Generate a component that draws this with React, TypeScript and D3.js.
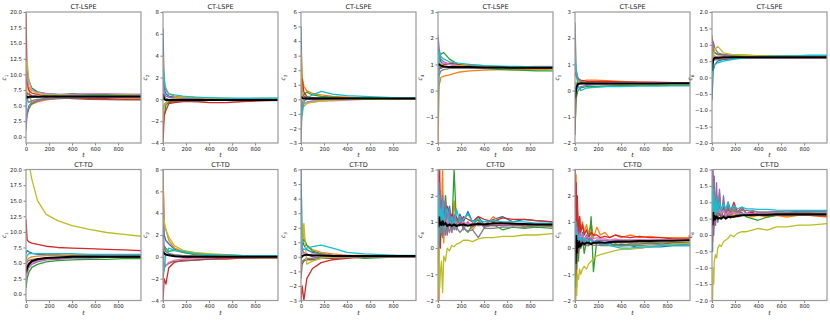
import React, { useRef, useEffect } from 'react';
import * as d3 from 'd3';

// time grids (smooth panels are sampled sparsely, noisy ones a bit denser)
const tSmooth = [0, 10, 25, 50, 100, 175, 275, 400, 550, 700, 850, 999];
const tNoisy = [0, 5, 10, 15, 20, 30, 40, 50, 65, 80, 100, 120, 140, 160, 190, 220, 260, 300, 350, 400, 480, 560, 650, 750, 850, 999];

const colors = ['#1f77b4', '#ff7f0e', '#2ca02c', '#d62728', '#9467bd', '#8c564b', '#e377c2', '#7f7f7f', '#bcbd22', '#17becf'];

const titles = ['CT-LSPE', 'CT-TD'];
const yLabels = ['1', '2', '3', '4', '5', '6'];
const yDomains: [number, number][] = [[-1, 20], [-4, 8], [-3, 6], [-2, 3], [-2, 3], [-2, 2]];
const yTicks = [
  [0, 2.5, 5, 7.5, 10, 12.5, 15, 17.5, 20],
  [-4, -2, 0, 2, 4, 6, 8],
  [-3, -2, -1, 0, 1, 2, 3, 4, 5, 6],
  [-2, -1, 0, 1, 2, 3],
  [-2, -1, 0, 1, 2, 3],
  [-2, -1.5, -1, -0.5, 0, 0.5, 1, 1.5, 2],
];
const xTicks = [0, 200, 400, 600, 800];

// ---- CT-LSPE ----
const lspeC1 = [
  [8.0, 10.5, 9.0, 7.8, 7.2, 6.9, 6.8, 6.7, 6.7, 6.6, 6.6, 6.6],
  [5.0, 8.5, 7.5, 5.2, 5.6, 5.9, 6.1, 6.2, 6.3, 6.3, 6.2, 6.2],
  [2.5, 3.5, 4.5, 5.3, 5.8, 6.3, 6.7, 6.9, 6.8, 6.8, 6.8, 6.7],
  [20.0, 9.0, 7.5, 7.0, 6.8, 6.6, 6.4, 6.2, 6.1, 6.1, 6.0, 6.0],
  [1.0, 4.0, 5.0, 5.5, 5.8, 6.0, 6.1, 6.2, 6.3, 6.3, 6.3, 6.3],
  [6.0, 7.0, 6.8, 6.6, 6.5, 6.4, 6.3, 6.1, 6.0, 5.95, 5.9, 5.9],
  [12.0, 9.5, 8.0, 7.4, 7.1, 6.9, 6.8, 6.8, 6.9, 6.9, 6.85, 6.85],
  [7.0, 6.0, 5.5, 5.8, 6.0, 6.1, 6.2, 6.3, 6.3, 6.4, 6.4, 6.4],
  [11.5, 12.0, 9.0, 7.5, 6.9, 6.7, 6.7, 6.6, 6.6, 6.6, 6.7, 6.6],
  [4.0, 6.0, 6.2, 6.3, 6.4, 6.5, 6.5, 6.5, 6.5, 6.5, 6.5, 6.5],
];
const lspeC1Mean = [6.6, 6.3, 6.4, 6.4, 6.4, 6.45, 6.45, 6.45, 6.45, 6.45, 6.45, 6.45];

const lspeC2 = [
  [6.5, 1.0, 0.5, 0.3, 0.2, 0.15, 0.1, 0.05, 0.05, 0.0, 0.0, 0.0],
  [4.0, 1.5, 1.0, 0.5, 0.3, 0.2, 0.1, 0.05, 0.0, 0.0, 0.0, 0.0],
  [-2.5, -1.5, -0.5, -0.3, -0.2, -0.1, -0.1, -0.1, -0.1, -0.15, -0.1, -0.1],
  [-4.0, -1.5, -1.0, -0.4, -0.3, -0.2, -0.2, -0.3, -0.3, -0.2, -0.15, -0.1],
  [2.0, 0.5, 0.3, 0.2, 0.1, 0.1, 0.05, 0.0, 0.0, 0.0, -0.05, -0.05],
  [-1.0, -0.5, -0.3, -0.2, -0.2, -0.1, -0.2, -0.1, -0.1, -0.1, -0.1, -0.1],
  [1.0, 0.3, 0.0, -0.1, -0.1, -0.1, -0.1, -0.1, -0.1, -0.05, -0.05, -0.05],
  [0.0, 0.2, 0.1, 0.0, 0.0, 0.0, 0.0, 0.0, 0.0, 0.0, 0.0, 0.0],
  [-2.0, -0.5, -0.3, -0.1, 0.1, 0.2, 0.2, 0.1, 0.1, 0.05, 0.1, 0.1],
  [3.0, 2.0, 0.8, 0.5, 0.4, 0.3, 0.2, 0.15, 0.1, 0.1, 0.1, 0.1],
];
const lspeC2Mean = [0.5, 0.0, -0.05, -0.05, -0.05, -0.05, -0.05, -0.05, -0.05, -0.05, -0.05, -0.05];

const lspeC3 = [
  [5.0, 0.5, 0.2, 0.1, 0.1, 0.1, 0.1, 0.05, 0.05, 0.05, 0.05, 0.05],
  [3.3, 1.5, 0.9, 0.6, 0.4, 0.3, 0.2, 0.15, 0.1, 0.1, 0.1, 0.1],
  [-0.5, 0.2, 0.3, 0.5, 0.3, 0.2, 0.15, 0.1, 0.1, 0.1, 0.05, 0.05],
  [-1.5, 1.4, 0.5, 0.2, 0.1, 0.0, 0.0, 0.0, 0.0, 0.0, 0.0, 0.0],
  [-2.0, -0.5, -0.3, -0.2, -0.1, -0.1, -0.05, 0.0, 0.0, 0.0, 0.0, 0.0],
  [1.0, 0.3, 0.2, 0.1, 0.1, 0.1, 0.1, 0.1, 0.05, 0.05, 0.05, 0.05],
  [0.5, -0.2, -0.3, -0.2, -0.2, -0.1, -0.1, -0.05, 0.0, 0.0, 0.0, 0.0],
  [-3.0, -0.2, -0.1, 0.0, 0.0, 0.0, 0.0, 0.0, 0.0, 0.0, 0.0, 0.0],
  [2.0, 0.5, -0.5, -0.3, -0.2, -0.1, -0.05, 0.0, 0.0, 0.0, 0.05, 0.05],
  [-1.0, -1.1, -0.2, 0.1, 0.3, 0.55, 0.35, 0.25, 0.2, 0.15, 0.1, 0.1],
];
const lspeC3Mean = [0.2, 0.1, 0.05, 0.05, 0.05, 0.05, 0.05, 0.05, 0.05, 0.05, 0.05, 0.05];

const lspeC4 = [
  [1.8, 1.3, 1.1, 1.0, 1.0, 0.95, 0.92, 0.9, 0.88, 0.87, 0.86, 0.86],
  [-2.0, 0.2, 0.5, 0.55, 0.6, 0.7, 0.75, 0.78, 0.8, 0.8, 0.8, 0.82],
  [0.8, 1.2, 1.4, 1.45, 1.2, 1.0, 0.9, 0.85, 0.8, 0.78, 0.75, 0.75],
  [0.5, 0.8, 0.9, 1.0, 1.05, 1.0, 0.95, 0.92, 0.9, 0.9, 0.9, 0.9],
  [2.1, 1.6, 1.2, 1.1, 1.0, 0.95, 0.9, 0.9, 0.9, 0.88, 0.88, 0.88],
  [1.0, 0.9, 0.85, 0.9, 0.9, 0.88, 0.87, 0.86, 0.86, 0.85, 0.85, 0.85],
  [1.2, 1.0, 1.0, 1.05, 1.0, 0.95, 0.92, 0.9, 0.9, 0.9, 0.92, 0.92],
  [0.0, 0.6, 0.75, 0.8, 0.85, 0.85, 0.85, 0.85, 0.85, 0.85, 0.85, 0.85],
  [1.3, 1.1, 1.0, 0.95, 0.9, 0.95, 1.0, 0.95, 0.9, 0.9, 0.9, 0.88],
  [-1.0, 1.5, 1.3, 1.2, 1.1, 1.05, 1.0, 0.95, 0.93, 0.92, 0.9, 0.9],
];
const lspeC4Mean = [1.0, 1.0, 0.95, 0.92, 0.9, 0.9, 0.9, 0.88, 0.88, 0.87, 0.87, 0.87];

const lspeC5 = [
  [1.1, 0.6, 0.4, 0.3, 0.25, 0.25, 0.22, 0.2, 0.2, 0.2, 0.2, 0.2],
  [0.8, 0.5, 0.4, 0.35, 0.4, 0.4, 0.38, 0.35, 0.32, 0.3, 0.3, 0.3],
  [-1.5, -0.3, 0.0, 0.1, 0.15, 0.15, 0.17, 0.18, 0.2, 0.2, 0.2, 0.2],
  [0.7, 0.6, 0.45, 0.4, 0.35, 0.35, 0.35, 0.33, 0.32, 0.32, 0.3, 0.3],
  [-0.8, 0.0, 0.1, 0.15, 0.2, 0.22, 0.23, 0.24, 0.25, 0.25, 0.25, 0.25],
  [-1.7, 0.3, 0.3, 0.3, 0.3, 0.3, 0.3, 0.3, 0.28, 0.28, 0.28, 0.28],
  [0.3, 0.2, 0.25, 0.25, 0.3, 0.3, 0.3, 0.3, 0.3, 0.3, 0.3, 0.3],
  [2.6, 0.8, 0.5, 0.35, 0.3, 0.28, 0.27, 0.27, 0.26, 0.26, 0.25, 0.25],
  [0.2, 0.3, 0.35, 0.3, 0.28, 0.26, 0.25, 0.25, 0.25, 0.25, 0.25, 0.25],
  [1.2, 0.8, 0.2, 0.0, 0.1, 0.12, 0.15, 0.15, 0.17, 0.17, 0.18, 0.18],
];
const lspeC5Mean = [-0.3, 0.1, 0.25, 0.28, 0.27, 0.27, 0.27, 0.27, 0.27, 0.27, 0.28, 0.28];

const lspeC6 = [
  [-0.7, 0.2, 0.4, 0.5, 0.55, 0.58, 0.6, 0.6, 0.6, 0.6, 0.6, 0.6],
  [1.3, 0.9, 0.75, 0.7, 0.68, 0.68, 0.67, 0.66, 0.65, 0.65, 0.64, 0.64],
  [0.9, 0.8, 0.75, 0.7, 0.7, 0.68, 0.68, 0.67, 0.66, 0.66, 0.66, 0.66],
  [1.2, 0.6, 0.55, 0.55, 0.57, 0.58, 0.6, 0.6, 0.6, 0.6, 0.6, 0.6],
  [0.5, 1.1, 0.9, 0.75, 0.7, 0.65, 0.63, 0.62, 0.62, 0.62, 0.62, 0.62],
  [0.4, 0.5, 0.55, 0.58, 0.6, 0.62, 0.62, 0.62, 0.62, 0.62, 0.62, 0.62],
  [0.8, 0.7, 0.65, 0.62, 0.62, 0.6, 0.6, 0.6, 0.6, 0.6, 0.6, 0.6],
  [0.6, 0.6, 0.55, 0.55, 0.58, 0.6, 0.6, 0.6, 0.6, 0.6, 0.6, 0.6],
  [0.3, 0.7, 0.85, 0.95, 0.75, 0.7, 0.68, 0.66, 0.65, 0.65, 0.65, 0.65],
  [0.0, 0.3, 0.4, 0.45, 0.5, 0.55, 0.6, 0.62, 0.65, 0.66, 0.68, 0.68],
];
const lspeC6Mean = [0.2, 0.55, 0.6, 0.6, 0.62, 0.62, 0.62, 0.62, 0.62, 0.62, 0.62, 0.62];

// ---- CT-TD ----
const tdC1 = [
  [6.5, 7.0, 6.8, 6.6, 6.4, 6.3, 6.3, 6.2, 6.2, 6.2, 6.2, 6.2],
  [3.0, 5.5, 5.8, 6.0, 6.1, 6.2, 6.2, 6.3, 6.3, 6.3, 6.3, 6.3],
  [1.0, 2.5, 3.5, 4.3, 4.8, 5.2, 5.4, 5.5, 5.6, 5.6, 5.7, 5.7],
  [12.0, 8.7, 8.4, 8.2, 8.0, 7.7, 7.5, 7.4, 7.3, 7.2, 7.1, 7.0],
  [2.0, 3.5, 4.3, 4.8, 5.2, 5.5, 5.6, 5.8, 5.8, 5.9, 5.9, 5.9],
  [4.0, 4.5, 5.0, 5.3, 5.5, 5.7, 5.8, 5.9, 6.0, 6.0, 6.0, 6.0],
  [2.5, 3.8, 4.5, 5.0, 5.4, 5.6, 5.8, 5.9, 6.0, 6.1, 6.1, 6.1],
  [5.0, 5.2, 5.4, 5.6, 5.7, 5.8, 5.9, 6.0, 6.0, 6.0, 6.1, 6.1],
  [25.0, 24.0, 21.0, 18.5, 15.0, 12.8, 11.8, 11.0, 10.4, 9.9, 9.6, 9.3],
  [5.5, 6.2, 6.5, 6.5, 6.5, 6.5, 6.5, 6.5, 6.4, 6.4, 6.4, 6.4],
];
const tdC1Mean = [3.5, 4.2, 4.8, 5.3, 5.6, 5.8, 5.9, 6.0, 6.0, 6.0, 6.0, 6.0];

const tdC2 = [
  [8.0, 2.0, 1.5, 1.2, 0.7, 0.4, 0.3, 0.2, 0.1, 0.05, 0.0, 0.0],
  [8.0, 3.0, 2.5, 1.5, 0.8, 0.5, 0.3, 0.2, 0.1, 0.1, 0.05, 0.05],
  [-1.0, 1.0, 0.8, 0.5, 0.6, 0.4, 0.2, 0.1, 0.0, -0.1, -0.1, -0.1],
  [-4.0, -2.0, -2.5, -1.0, -0.5, -0.3, -0.3, -0.2, -0.2, -0.1, -0.1, -0.1],
  [3.0, 1.0, 0.5, 0.3, 0.1, 0.0, -0.1, -0.1, 0.0, 0.0, 0.0, 0.0],
  [-2.0, -1.0, -0.8, -0.6, -0.4, -0.4, -0.3, -0.2, -0.1, -0.1, -0.05, -0.05],
  [1.5, -0.5, -0.8, -0.5, -0.3, -0.2, -0.1, -0.1, 0.0, 0.0, 0.0, 0.0],
  [0.5, 0.8, 0.5, 0.3, 0.2, 0.1, 0.1, 0.05, 0.0, 0.0, 0.0, 0.0],
  [3.5, 3.3, 2.5, 1.8, 1.0, 0.6, 0.4, 0.3, 0.2, 0.1, 0.1, 0.1],
  [-1.5, -1.2, 0.3, 0.8, 0.6, 0.5, 0.3, 0.2, 0.2, 0.1, 0.1, 0.1],
];
const tdC2Mean = [0.5, 0.3, 0.2, 0.15, 0.05, 0.0, 0.0, 0.0, 0.0, 0.0, 0.0, 0.0];

const tdC3 = [
  [6.0, 1.2, 0.8, 0.5, 0.3, 0.2, 0.1, 0.05, 0.0, 0.0, 0.0, 0.0],
  [2.5, 2.0, 1.3, 0.8, 0.5, 0.3, 0.2, 0.1, 0.1, 0.05, 0.05, 0.05],
  [-0.5, 1.0, 1.2, 0.8, 0.4, 0.2, 0.1, 0.0, -0.1, -0.05, 0.0, 0.0],
  [-3.0, -2.0, -3.0, -1.5, -0.8, -0.4, -0.2, -0.1, 0.0, 0.0, 0.0, 0.0],
  [1.0, 0.5, 0.3, 0.2, 0.0, -0.1, -0.1, 0.0, 0.0, 0.0, 0.0, 0.0],
  [-1.5, -0.5, -0.3, -0.2, -0.2, -0.1, -0.1, -0.05, 0.0, 0.0, 0.0, 0.0],
  [0.5, 0.3, 0.2, 0.1, 0.2, 0.15, 0.1, 0.1, 0.05, 0.05, 0.05, 0.05],
  [-0.5, -0.3, -0.2, -0.1, -0.1, 0.0, 0.0, 0.0, 0.0, 0.0, 0.0, 0.0],
  [1.5, 1.0, 2.3, -0.5, -0.3, -0.1, 0.0, 0.0, 0.05, 0.05, 0.05, 0.05],
  [3.0, 0.6, 0.5, 0.6, 0.7, 0.8, 0.6, 0.3, 0.2, 0.15, 0.1, 0.1],
];
const tdC3Mean = [-0.1, 0.05, 0.1, 0.15, 0.1, 0.1, 0.05, 0.05, 0.05, 0.05, 0.05, 0.05];

const tdC4 = [
  [3, -1, 2.5, 0.5, 2.0, 0.8, 1.5, 1.8, 0.6, 1.3, 1.6, 0.9, 1.2, 0.8, 1.3, 1.0, 1.4, 1.0, 1.2, 0.9, 1.1, 1.2, 1.0, 1.1, 1.05, 1.0],
  [-2, 3, -2, 2.5, 0.0, 1.5, 3.0, 0.2, 2.0, 0.5, 1.0, 0.6, 1.8, 0.7, 1.2, 0.8, 1.0, 0.7, 1.0, 0.8, 1.2, 0.9, 1.0, 0.8, 0.9, 0.8],
  [2, 0, 2.8, 0.2, 1.8, 0.5, 1.5, 0.8, 2.0, 0.9, 1.3, 0.7, 3.0, 0.9, 1.1, 0.8, 0.6, 0.9, 1.1, 0.8, 0.9, 0.7, 0.8, 0.75, 0.8, 0.75],
  [-2, 2.8, 0.5, 3.0, 0.0, 1.8, 0.6, 1.4, 1.0, 1.6, 0.9, 1.3, 1.1, 1.2, 0.9, 1.2, 1.1, 1.0, 1.2, 1.1, 1.0, 1.15, 1.1, 1.1, 1.05, 1.0],
  [3, 0.2, 2.5, 0.5, 2.2, 0.6, 2.0, 0.5, 1.8, 0.5, 1.5, 0.6, 1.3, 0.7, 1.2, 0.7, 1.0, 0.8, 1.0, 0.8, 0.9, 0.85, 0.9, 0.85, 0.88, 0.85],
  [1.5, 0.5, 1.0, 0.8, 1.2, 0.7, 1.1, 0.9, 0.8, 1.0, 0.9, 1.1, 0.8, 1.0, 0.9, 0.95, 0.9, 0.85, 0.9, 0.88, 0.85, 0.9, 0.88, 0.87, 0.86, 0.85],
  [0.5, 2.0, 0.7, 1.5, 0.8, 1.3, 0.5, 1.2, 0.7, 1.1, 0.8, 1.0, 0.9, 1.0, 0.85, 1.0, 0.9, 0.95, 0.85, 0.9, 0.95, 0.9, 0.92, 0.9, 0.9, 0.9],
  [1.0, 1.5, 0.2, 1.2, 0.6, 1.0, 0.4, 1.1, 0.5, 0.9, 0.6, 1.0, 0.7, 0.8, 0.6, 0.75, 0.65, 0.7, 0.4, 0.75, 0.75, 0.8, 0.8, 0.8, 0.85, 0.85],
  [-2, -1, 0.0, -1.5, -1.0, -0.5, -1.7, -0.3, -0.5, 0.0, -0.1, 0.1, 0.05, 0.15, 0.2, 0.3, 0.3, 0.25, 0.35, 0.4, 0.4, 0.45, 0.45, 0.5, 0.5, 0.55],
  [2.5, 0.0, 2.0, 0.8, 1.5, 1.0, 1.8, 0.7, 1.3, 1.5, 0.9, 1.2, 0.8, 1.5, 1.0, 1.1, 1.3, 1.0, 1.1, 1.0, 1.05, 1.0, 1.0, 1.0, 0.95, 0.95],
];
const tdC4Mean = [1.0, 0.8, 1.2, 0.9, 1.0, 0.85, 1.05, 0.9, 0.95, 0.85, 0.9, 0.85, 0.9, 0.85, 0.88, 0.9, 0.85, 0.9, 0.92, 0.9, 0.95, 0.95, 0.93, 0.92, 0.9, 0.9];

const tdC5 = [
  [2.0, -1.0, 1.5, 0.0, 1.0, 0.3, 0.8, 0.2, 0.6, 0.3, 0.5, 0.3, 0.4, 0.2, 0.3, 0.2, 0.15, 0.2, 0.1, 0.15, 0.1, 0.0, 0.05, 0.05, 0.1, 0.1],
  [3, -2, 2.8, -1.5, 1.5, 0.5, 1.2, 0.7, 1.0, 0.6, 0.9, 0.5, 1.0, 0.4, 0.8, 0.5, 0.6, 0.4, 0.5, 0.4, 0.5, 0.4, 0.45, 0.4, 0.4, 0.4],
  [2.5, -1.5, 1.8, -0.8, 1.0, -0.5, 0.5, 0.0, 0.4, -0.2, 0.3, 0.1, 1.2, -0.9, 0.3, 0.1, 0.2, 0.1, 0.15, 0.1, 0.15, 0.15, 0.2, 0.15, 0.2, 0.2],
  [3, 0.0, 2.5, 1.0, 2.0, 0.5, 1.2, 0.6, 0.9, 0.5, 0.7, 0.4, 0.6, 0.5, 0.5, 0.4, 0.45, 0.4, 0.5, 0.45, 0.4, 0.45, 0.4, 0.4, 0.35, 0.35],
  [1.5, -0.5, 1.0, 0.0, 0.8, 0.2, 0.6, 0.1, 0.5, 0.2, 0.4, 0.3, 0.35, 0.25, 0.3, 0.3, 0.3, 0.28, 0.3, 0.3, 0.3, 0.3, 0.3, 0.3, 0.3, 0.3],
  [0.5, -1.0, 0.3, -0.5, 0.2, -0.2, 0.3, 0.0, 0.2, 0.1, 0.2, 0.15, 0.2, 0.2, 0.2, 0.2, 0.2, 0.25, 0.2, 0.22, 0.2, 0.2, 0.2, 0.2, 0.2, 0.22],
  [1.0, 0.2, 0.8, 0.3, 0.6, 0.3, 0.5, 0.4, 0.5, 0.35, 0.45, 0.4, 0.4, 0.35, 0.4, 0.35, 0.35, 0.3, 0.35, 0.3, 0.3, 0.32, 0.3, 0.3, 0.3, 0.3],
  [0.0, 1.0, -0.5, 0.5, 0.0, 0.3, 0.1, 0.2, 0.1, 0.15, 0.1, 0.1, 0.15, 0.1, 0.12, 0.1, 0.1, 0.1, 0.1, 0.08, 0.1, 0.1, 0.12, 0.12, 0.12, 0.15],
  [-2, -2, -1.5, -1.8, -1.0, -1.2, -0.8, -1.0, -0.8, -0.7, -0.8, -0.6, -0.5, -0.4, -0.3, -0.25, -0.2, -0.15, -0.1, -0.05, -0.05, 0.0, 0.05, 0.1, 0.15, 0.2],
  [0.5, 1.0, 0.2, 0.6, 0.3, 0.5, 0.2, 0.4, 0.3, 0.35, 0.3, 0.25, 0.3, 0.2, 0.25, 0.15, 0.2, 0.1, 0.05, 0.0, 0.0, 0.05, 0.05, 0.1, 0.1, 0.1],
];
const tdC5Mean = [0.2, -0.6, 0.5, -0.2, 0.3, 0.0, 0.2, 0.1, 0.2, 0.15, 0.2, 0.2, 0.15, 0.2, 0.2, 0.22, 0.2, 0.22, 0.24, 0.25, 0.25, 0.27, 0.27, 0.28, 0.28, 0.3];

const tdC6 = [
  [1.8, -0.5, 1.5, 0.0, 1.2, 0.3, 1.0, 0.4, 0.9, 0.5, 0.8, 0.5, 0.7, 0.55, 0.7, 0.6, 0.65, 0.6, 0.65, 0.62, 0.62, 0.65, 0.62, 0.62, 0.6, 0.6],
  [2.0, 0.0, 1.8, 0.2, 1.5, 0.4, 1.2, 0.5, 1.0, 0.6, 1.0, 0.55, 0.8, 0.5, 0.7, 0.55, 0.6, 0.6, 0.55, 0.6, 0.55, 0.6, 0.55, 0.6, 0.6, 0.55],
  [2.0, 0.5, 1.6, 0.3, 1.3, 0.5, 1.1, 0.6, 1.3, 0.5, 0.9, 0.6, 1.0, 0.6, 0.75, 0.65, 0.7, 0.55, 0.5, 0.45, 0.55, 0.6, 0.65, 0.7, 0.7, 0.75],
  [2.0, -0.2, 1.8, 0.3, 1.4, 0.4, 1.2, 0.5, 1.0, 0.6, 0.9, 0.7, 0.8, 0.7, 1.0, 0.7, 0.85, 0.65, 0.7, 0.6, 0.6, 0.62, 0.6, 0.6, 0.6, 0.58],
  [2.0, 0.0, 2.0, 0.2, 1.8, 0.3, 1.6, 0.4, 1.4, 0.5, 1.2, 0.5, 1.0, 0.6, 0.9, 0.6, 0.8, 0.65, 0.75, 0.7, 0.7, 0.72, 0.7, 0.72, 0.72, 0.72],
  [1.0, 0.2, 0.9, 0.4, 0.8, 0.5, 0.7, 0.5, 0.65, 0.55, 0.6, 0.55, 0.6, 0.55, 0.6, 0.58, 0.6, 0.6, 0.6, 0.6, 0.6, 0.6, 0.6, 0.6, 0.6, 0.6],
  [1.5, 0.4, 1.2, 0.5, 1.0, 0.6, 0.9, 0.6, 0.8, 0.65, 0.75, 0.6, 0.7, 0.65, 0.7, 0.65, 0.65, 0.65, 0.65, 0.65, 0.65, 0.65, 0.65, 0.65, 0.65, 0.65],
  [1.9, 0.6, 1.7, 0.5, 1.4, 0.7, 1.2, 0.6, 1.0, 0.8, 0.9, 0.7, 0.85, 0.75, 0.8, 0.7, 0.75, 0.75, 0.72, 0.7, 0.7, 0.7, 0.7, 0.7, 0.7, 0.7],
  [-2, -2, -1.0, -1.5, -0.8, -0.6, -0.7, -0.4, -0.3, -0.35, -0.2, -0.15, -0.1, 0.0, -0.05, 0.05, 0.1, 0.1, 0.15, 0.2, 0.15, 0.25, 0.25, 0.3, 0.3, 0.35],
  [1.6, 0.8, 1.4, 0.5, 1.2, 0.6, 1.1, 0.7, 1.0, 0.75, 0.95, 0.8, 1.0, 0.8, 0.9, 0.8, 0.85, 0.8, 0.8, 0.78, 0.78, 0.76, 0.75, 0.75, 0.75, 0.75],
];
const tdC6Mean = [0.5, 0.3, 0.7, 0.45, 0.6, 0.5, 0.55, 0.5, 0.52, 0.5, 0.55, 0.5, 0.55, 0.55, 0.56, 0.58, 0.6, 0.6, 0.62, 0.62, 0.62, 0.63, 0.63, 0.63, 0.63, 0.63];

const rows = [
  [
    { runs: lspeC1, mean: lspeC1Mean, t: tSmooth },
    { runs: lspeC2, mean: lspeC2Mean, t: tSmooth },
    { runs: lspeC3, mean: lspeC3Mean, t: tSmooth },
    { runs: lspeC4, mean: lspeC4Mean, t: tSmooth },
    { runs: lspeC5, mean: lspeC5Mean, t: tSmooth },
    { runs: lspeC6, mean: lspeC6Mean, t: tSmooth },
  ],
  [
    { runs: tdC1, mean: tdC1Mean, t: tSmooth },
    { runs: tdC2, mean: tdC2Mean, t: tSmooth },
    { runs: tdC3, mean: tdC3Mean, t: tSmooth },
    { runs: tdC4, mean: tdC4Mean, t: tNoisy },
    { runs: tdC5, mean: tdC5Mean, t: tNoisy },
    { runs: tdC6, mean: tdC6Mean, t: tNoisy },
  ],
];

function App() {
  const chartRef = useRef<SVGSVGElement>(null);

  useEffect(() => {
    const svg = d3.select(chartRef.current);
    svg.selectAll('*').remove();

    const panelLeft = [26, 163, 301, 438, 575, 712];
    const panelTop = [12, 169.5];
    const w = 115;
    const h = 131;
    const font = 'DejaVu Sans, sans-serif';

    rows.forEach((row, r) => {
      row.forEach((panel, c) => {
        const g = svg.append('g')
          .attr('transform', `translate(${panelLeft[c]},${panelTop[r]})`);

        const x = d3.scaleLinear().domain([0, 999]).range([0, w]);
        const y = d3.scaleLinear().domain(yDomains[c]).range([h, 0]);

        const clipId = `clip-${r}-${c}`;
        g.append('clipPath').attr('id', clipId)
          .append('rect').attr('width', w).attr('height', h);

        const plot = g.append('g').attr('clip-path', `url(#${clipId})`);
        const line = d3.line<number>()
          .x((_, i) => x(panel.t[i]))
          .y(d => y(d));

        panel.runs.forEach((vals, i) => {
          plot.append('path')
            .datum(vals)
            .attr('fill', 'none')
            .attr('stroke', colors[i])
            .attr('stroke-width', 1.3)
            .attr('stroke-linejoin', 'round')
            .attr('d', line);
        });

        plot.append('path')
          .datum(panel.mean)
          .attr('fill', 'none')
          .attr('stroke', 'black')
          .attr('stroke-width', 2)
          .attr('d', line);

        // axes
        const xAxis = g.append('g')
          .attr('transform', `translate(0,${h})`)
          .call(d3.axisBottom(x).tickValues(xTicks).tickSize(2.5).tickPadding(1.5));
        const yAxis = g.append('g')
          .call(d3.axisLeft(y).tickValues(yTicks[c]).tickSize(2.5).tickPadding(1.5)
            .tickFormat(c === 0 || c === 5 ? d3.format('.1f') : d3.format('d')));
        [xAxis, yAxis].forEach(a => {
          a.select('.domain').remove();
          a.selectAll('line').attr('stroke', '#333').attr('stroke-width', 0.6);
          a.selectAll('text')
            .attr('font-family', font)
            .attr('font-size', 5.4)
            .attr('fill', '#222');
        });

        g.append('rect')
          .attr('width', w)
          .attr('height', h)
          .attr('fill', 'none')
          .attr('stroke', '#9a9a9a')
          .attr('stroke-width', 1.2);

        g.append('text')
          .attr('x', w / 2)
          .attr('y', -3)
          .attr('text-anchor', 'middle')
          .attr('font-family', font)
          .attr('font-size', 6.5)
          .attr('fill', '#222')
          .text(titles[r]);

        g.append('text')
          .attr('x', w / 2)
          .attr('y', h + 14)
          .attr('text-anchor', 'middle')
          .attr('font-family', font)
          .attr('font-style', 'italic')
          .attr('font-size', 6)
          .attr('fill', '#222')
          .text('t');

        const yl = g.append('text')
          .attr('transform', `translate(${c === 0 || c === 5 ? -20 : -16},${h / 2}) rotate(-90)`)
          .attr('text-anchor', 'middle')
          .attr('font-family', font)
          .attr('font-style', 'italic')
          .attr('font-size', 6)
          .attr('fill', '#222');
        yl.append('tspan').text('c');
        yl.append('tspan')
          .attr('font-size', 4.2)
          .attr('dy', 1.5)
          .attr('font-style', 'normal')
          .text(yLabels[c]);
      });
    });
  }, []);

  return (
    <svg
      ref={chartRef}
      width={830}
      height={321}
      style={{ position: 'absolute', left: 0, top: 0, background: 'white' }}
    />
  );
}

export default App;
